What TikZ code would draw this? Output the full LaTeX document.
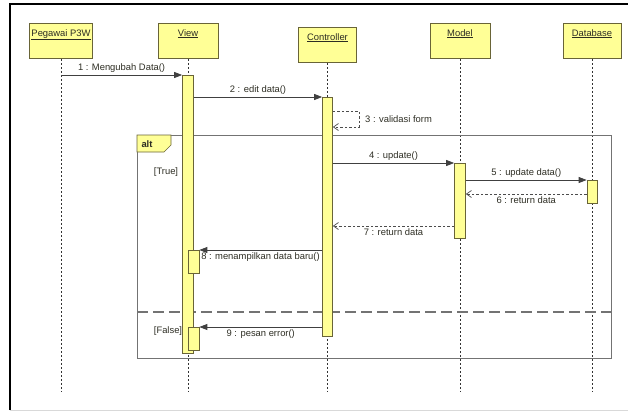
\documentclass[tikz,border=0pt]{standalone}
\usepackage{fontspec}
\setmainfont{Liberation Sans}
\usepackage{tikz}
\usetikzlibrary{arrows.meta,positioning,calc}
\definecolor{lifefill}{RGB}{255,255,150}
\definecolor{lifeedge}{RGB}{105,100,55}
\definecolor{framegray}{RGB}{115,115,115}
\definecolor{txt}{RGB}{45,45,35}

\tikzset{
  head/.style={draw=lifeedge, fill=lifefill, line width=0.8pt, anchor=north,
    minimum width=60pt, minimum height=35pt, inner sep=0pt},
  bar/.style={draw=lifeedge, fill=lifefill, line width=0.7pt, anchor=north,
    minimum width=11pt, inner sep=0pt},
  lifeline/.style={black!80, dash pattern=on 2pt off 2pt, line width=0.6pt},
  msg/.style={black!75, line width=0.8pt, -{Triangle[length=8pt,width=6pt]}},
  ret/.style={black!70, line width=0.7pt, dash pattern=on 2.5pt off 2pt,
    -{Straight Barb[length=5pt,width=7pt]}},
  lbl/.style={text=txt, inner sep=2pt}
}

\begin{document}
\begin{tikzpicture}[x=1pt, y=-1pt, font=\fontsize{9.4}{11}\selectfont]
\useasboundingbox (0,0) rectangle (628,412);
% outer frame
\draw[black, line width=1.8pt] (10,410) -- (10,4) -- (628,4);
\draw[black!15, line width=0.8pt] (10,410) -- (628,410);

% lifeline heads
\node[head, minimum width=63pt, label={[lbl, anchor=north, yshift=-4pt]north:\underline{Pegawai P3W}}] (peg) at (61,23) {};
\node[head, label={[lbl, anchor=north, yshift=-4pt]north:\underline{View}}] (view) at (188,23) {};
\node[head, minimum width=58pt, label={[lbl, anchor=north, yshift=-4pt]north:\underline{Controller}}] (ctrl) at (327.5,27) {};
\node[head, label={[lbl, anchor=north, yshift=-4pt]north:\underline{Model}}] (model) at (460,23) {};
\node[head, minimum width=58pt, label={[lbl, anchor=north, yshift=-4pt]north:\underline{Database}}] (db) at (592,23) {};

% lifelines
\coordinate (bottom) at (0,391);
\foreach \n in {peg,view,ctrl,model,db}
  \draw[lifeline] (\n.south) -- (\n.south |- bottom);

% alt fragment
\draw[framegray, line width=1pt] (137,135) rectangle (611,358);
\draw[framegray, line width=1.2pt, dash pattern=on 11pt off 5pt] (137,312) -- (611,312);
\draw[lifeedge, fill=lifefill, line width=0.7pt] (137,135) -- (171,135) -- (171,145) -- (164,152) -- (137,152) -- cycle;
\node[lbl, font=\fontsize{9.4}{11}\selectfont\bfseries] (alt) at (147,144) {alt};
\node[lbl] (gtrue) at (166,172) {[True]};
\node[lbl] (gfalse) at (168,331) {[False]};

% activation bars
\node[bar, minimum height=278pt] (vbar) at (188,75) {};
\node[bar, minimum width=10pt, minimum height=239pt] (cbar) at (327.5,97) {};
\node[bar, minimum height=75pt] (mbar) at (460,163) {};
\node[bar, minimum width=10pt, minimum height=23pt] (dbar) at (592,180) {};
\node[bar, minimum height=23pt] (v8) at (193.5,250) {};
\node[bar, minimum height=23pt] (v9) at (193.5,327) {};

% messages
\draw[msg] (peg.south |- vbar.north) -- node[lbl, above] {1 : Mengubah Data()} (vbar.north west);
\draw[msg] (vbar.east |- cbar.north) -- node[lbl, above] {2 : edit data()} (cbar.north west);
\coordinate (s3a) at (359,111);
\coordinate (s3b) at (359,127);
\draw[ret] (cbar.east |- s3a) -- (s3a) -- (s3b) -- (cbar.east |- s3b);
\node[lbl, anchor=west] (l3) at (363,119) {3 : validasi form};
\draw[msg] (cbar.east |- mbar.north) -- node[lbl, above] {4 : update()} (mbar.north west);
\draw[msg] (mbar.east |- dbar.north) -- node[lbl, above] {5 : update data()} (dbar.north west);
\coordinate (r6) at (0,194);
\draw[ret] (dbar.west |- r6) -- node[lbl, below] {6 : return data} (mbar.east |- r6);
\coordinate (r7) at (0,226);
\draw[ret] (mbar.west |- r7) -- node[lbl, below] {7 : return data} (cbar.east |- r7);
\draw[msg] (cbar.west |- v8.north) -- node[lbl, pos=1, anchor=north west, inner xsep=1.5pt] {8 : menampilkan data baru()} (v8.north east);
\draw[msg] (cbar.west |- v9.north) -- node[lbl, below] {9 : pesan error()} (v9.north east);
\end{tikzpicture}
\end{document}
